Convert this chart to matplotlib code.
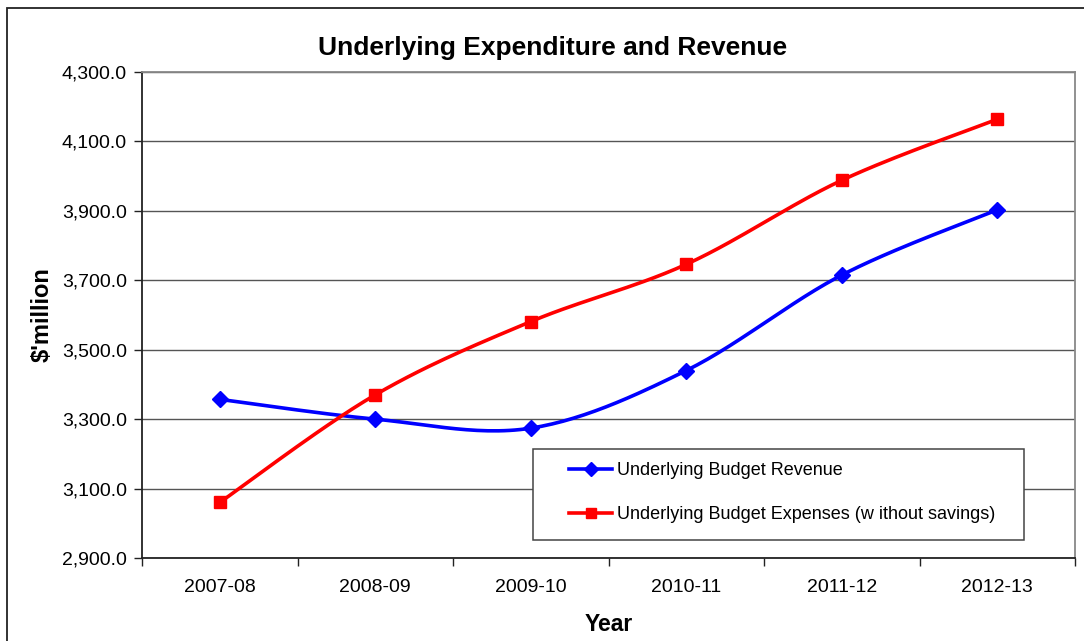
"""Underlying budget revenue vs expenses, 2007-08 to 2012-13 ($ million),
drawn with smoothed lines in the spreadsheet style.
"""

import numpy as np
import matplotlib
matplotlib.use("Agg")
import matplotlib.pyplot as plt
from matplotlib.patches import Rectangle
from matplotlib.ticker import FuncFormatter

plt.rcParams["font.family"] = ["Liberation Sans", "DejaVu Sans"]

YEARS = ["2007-08", "2008-09", "2009-10", "2010-11", "2011-12", "2012-13"]
REVENUE = [3357.0, 3300.0, 3274.0, 3440.0, 3715.0, 3903.0]
EXPENSES = [3060.0, 3370.0, 3581.0, 3746.0, 3988.0, 4164.0]

REV_LABEL = "Underlying Budget Revenue"
EXP_LABEL = "Underlying Budget Expenses (w ithout savings)"


def smooth(xs, ys, n=30):
    # Catmull-Rom through the points, same look as a spreadsheet "smoothed line"
    xs = np.asarray(xs, float)
    ys = np.asarray(ys, float)
    px = np.concatenate([[xs[0]], xs, [xs[-1]]])
    py = np.concatenate([[ys[0]], ys, [ys[-1]]])
    out_x, out_y = [], []
    t = np.linspace(0, 1, n)
    for i in range(1, len(px) - 2):
        for p, out in ((px, out_x), (py, out_y)):
            p0, p1, p2, p3 = p[i - 1], p[i], p[i + 1], p[i + 2]
            c1 = p1 + (p2 - p0) / 6.0
            c2 = p2 - (p3 - p1) / 6.0
            seg = ((1 - t) ** 3 * p1 + 3 * (1 - t) ** 2 * t * c1
                   + 3 * (1 - t) * t ** 2 * c2 + t ** 3 * p2)
            out.extend(seg if i == 1 else seg[1:])
    return np.array(out_x), np.array(out_y)


W, H = 1084, 641
fig = plt.figure(figsize=(W / 100, H / 100), dpi=100)
# chart frame, running off the right and bottom edges
fig.patches.append(Rectangle((7 / W, -0.05), 1.2, 1 - 8 / H + 0.05,
                             transform=fig.transFigure, fill=False,
                             ec="#222222", lw=1.3))

ax = fig.add_axes([142 / W, 1 - 558 / H, (1075 - 142) / W, (558 - 72) / H])

x = np.arange(len(YEARS))
handles = []
for vals, color, marker, ms, label in [
        (REVENUE, "#0000ff", "D", 8.5, REV_LABEL),
        (EXPENSES, "#ff0000", "s", 8, EXP_LABEL)]:
    sx, sy = smooth(x, vals)
    ax.plot(sx, sy, color=color, lw=2.6, solid_capstyle="round")
    ax.plot(x, vals, ls="none", marker=marker, ms=ms, color=color, mec=color)
    h, = ax.plot([], [], color=color, lw=2.6, marker=marker, ms=ms - 1.5,
                 label=label)
    handles.append(h)

ax.set_xlim(-0.5, len(YEARS) - 0.5)
ax.set_ylim(2900, 4300)
ax.set_yticks(np.arange(2900, 4301, 200))
ax.yaxis.set_major_formatter(FuncFormatter(lambda v, _: f"{v:,.1f}"))
ax.set_xticks(np.arange(-0.5, len(YEARS), 1.0))
ax.set_xticklabels([])
ax.set_xticks(x, minor=True)
ax.set_xticklabels(YEARS, minor=True)
ax.tick_params(axis="x", which="minor", length=0, pad=15, labelsize=14)
ax.tick_params(axis="x", which="major", length=6, width=1, color="#222222")
ax.tick_params(axis="y", length=6, width=1, color="#222222", labelsize=14, pad=5)

ax.grid(axis="y", color="#555555", lw=1)
ax.set_axisbelow(True)
ax.spines["left"].set_color("#222222")
ax.spines["bottom"].set_color("#222222")
ax.spines["top"].set_color("#888888")
ax.spines["right"].set_color("#888888")
for s in ax.spines.values():
    s.set_linewidth(1.3)

fig.text(553 / W, 1 - 48 / H, "Underlying Expenditure and Revenue",
         fontsize=19, fontweight="bold", ha="center", va="center")
ax.set_xlabel("Year", fontsize=16.5, fontweight="bold")
ax.xaxis.set_label_coords(0.5, -0.114)
ax.set_ylabel("$'million", fontsize=17, fontweight="bold", labelpad=6)

# legend box drawn separately so the entries can sit with a wide left margin
ax.add_patch(Rectangle((0.419, 0.037), 0.526, 0.187, transform=ax.transAxes,
                       fill=False, ec="#444444", lw=1.1, zorder=5))
ax.add_patch(Rectangle((0.419, 0.037), 0.526, 0.187, transform=ax.transAxes,
                       fc="white", ec="none", zorder=4))
leg = ax.legend(handles=handles, loc="center left",
                bbox_to_anchor=(0.4577, 0.135), fontsize=13, frameon=False,
                handlelength=2.4, borderpad=0, labelspacing=1.5,
                handletextpad=0.25, borderaxespad=0)
leg.set_zorder(6)

fig.savefig("out.png", dpi=100)
